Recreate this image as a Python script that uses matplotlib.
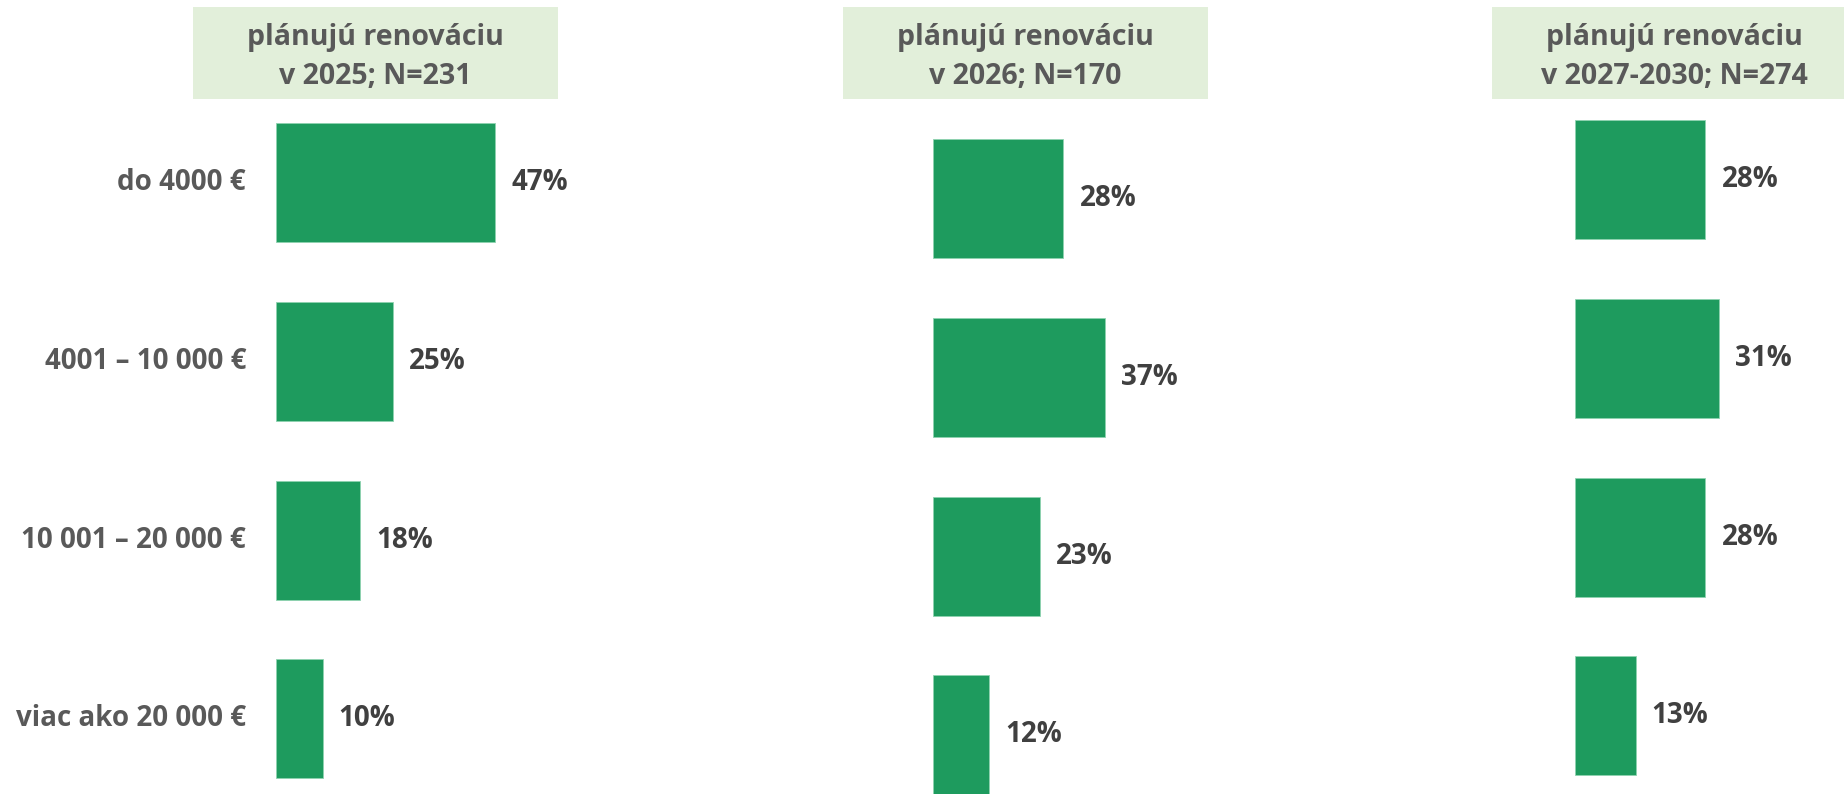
import matplotlib
matplotlib.use("Agg")
import matplotlib.pyplot as plt
from matplotlib.patches import Rectangle

plt.rcParams['font.family'] = ['Open Sans', 'DejaVu Sans']

# data
categories = ["do 4000 €", "4001 – 10 000 €", "10 001 – 20 000 €", "viac ako 20 000 €"]
headers = [("plánujú renováciu", "v 2025; N=231"),
           ("plánujú renováciu", "v 2026; N=170"),
           ("plánujú renováciu", "v 2027-2030; N=274")]
vals_2025 = [47, 25, 18, 10]
vals_2026 = [28, 37, 23, 12]
vals_2027_2030 = [28, 31, 28, 13]
series = [vals_2025, vals_2026, vals_2027_2030]

W, H = 1844, 794
bar_color = "#1e9b5e"
head_bg = "#e2efda"
head_col = "#595959"
lab_col = "#595959"
val_col = "#404040"

fig = plt.figure(figsize=(W / 100, H / 100), dpi=100)

# panel layout in pixels (from top-left)
bar_x0 = [276, 933, 1575]
row0_y = [182.5, 198.5, 179.5]
head_x0 = [193, 843, 1492]
head_w, head_top, head_bot = 365, 7, 99
row_step = 178.8
px_per_pct = 4.66
ax_w = 420


def fx(px):
    return px / W


def fy(py):
    return 1 - py / H


for i, vals in enumerate(series):
    # header box + two lines of text
    fig.patches.append(Rectangle((fx(head_x0[i]), fy(head_bot)), head_w / W,
                                 (head_bot - head_top) / H, transform=fig.transFigure,
                                 facecolor=head_bg, edgecolor="none", zorder=0))
    cx = fx(head_x0[i] + head_w / 2)
    fig.text(cx, fy(38), headers[i][0], ha="center", va="center",
             fontsize=20.5, fontweight="bold", color=head_col)
    fig.text(cx, fy(77), headers[i][1], ha="center", va="center",
             fontsize=20.5, fontweight="bold", color=head_col)

    top = row0_y[i] - 0.5 * row_step
    bot = row0_y[i] + 3.5 * row_step
    ax = fig.add_axes([fx(bar_x0[i]), fy(bot), ax_w / W, (bot - top) / H])
    ax.set_xlim(0, ax_w / px_per_pct)
    ax.set_ylim(3.5, -0.5)
    y = list(range(len(vals)))
    ax.barh(y, vals, height=0.666, color=bar_color, edgecolor="#8fd3b0", linewidth=0.6)
    for yy, v in zip(y, vals):
        ax.annotate(f"{v}%", (v, yy), xytext=(16, 0), textcoords="offset pixels",
                    ha="left", va="center", fontsize=20, fontweight="bold", color=val_col)
    ax.axis("off")

    if i == 0:
        for yy, c in zip(y, categories):
            ax.annotate(c, (0, yy), xytext=(-30, 0), textcoords="offset pixels",
                        ha="right", va="center", fontsize=20, fontweight="bold",
                        color=lab_col, annotation_clip=False)

fig.savefig("out.png", dpi=100)
